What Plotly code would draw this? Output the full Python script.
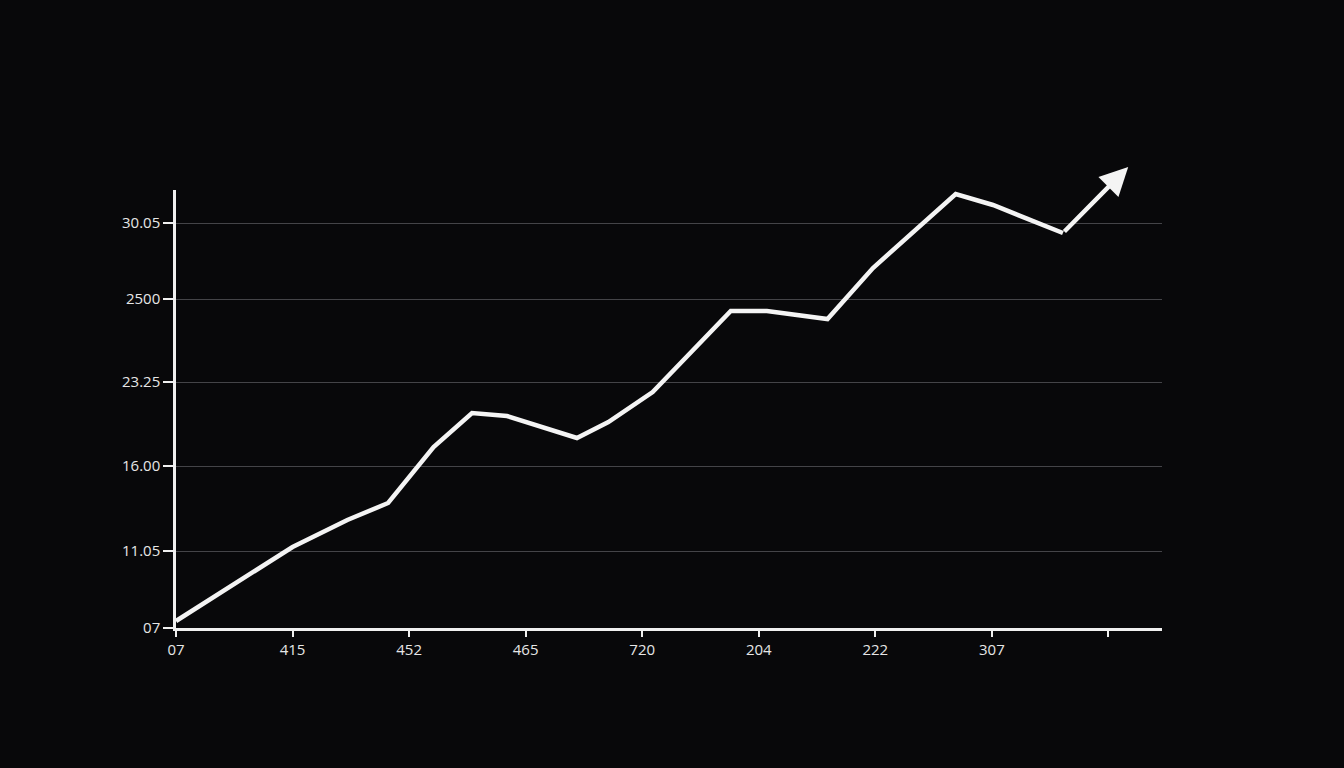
import plotly.graph_objects as go

# X tick categories (positions 0..8) and labels
x_tick_pos = [0, 1, 2, 3, 4, 5, 6, 7, 8]
x_tick_labels = ["07", "415", "452", "465", "720", "204", "222", "307", ""]

# Y tick positions (chart units) and labels
y_tick_pos = [0, 77, 162, 246, 329, 405]
y_tick_labels = ["07", "11.05", "16.00", "23.25", "2500", "30.05"]

# Series values
x_vals = [0.0, 1.0, 1.47, 1.82, 2.21, 2.54, 2.84, 3.44, 3.71, 4.09, 4.76, 5.07, 5.59, 5.98, 6.69, 7.01, 7.61]
y_vals = [7, 81, 108, 125, 181, 215, 212, 190, 206, 236, 317, 317, 309, 360, 434, 423, 395]

# Arrow tip (continuation of the series)
arrow_tip = (8.17, 461)

fig = go.Figure()
fig.add_trace(go.Scatter(
    x=x_vals, y=y_vals, mode="lines",
    line=dict(color="#f4f4f4", width=4.5),
    hoverinfo="skip", showlegend=False,
))

fig.add_annotation(
    x=arrow_tip[0], y=arrow_tip[1], ax=x_vals[-1], ay=y_vals[-1],
    xref="x", yref="y", axref="x", ayref="y",
    showarrow=True, arrowhead=2, arrowsize=1.25, arrowwidth=4.5,
    arrowcolor="#f4f4f4", text="",
)

axis_font = dict(family="Open Sans, DejaVu Sans, sans-serif", size=15, color="#e6e6e6")

fig.update_layout(
    width=1344, height=768,
    paper_bgcolor="#08080a", plot_bgcolor="#08080a",
    margin=dict(l=176, r=182, t=190, b=140),
    xaxis=dict(
        range=[0, 8.46], tickmode="array", tickvals=x_tick_pos, ticktext=x_tick_labels,
        showgrid=False, zeroline=False, showline=True, linecolor="#f0f0f0", linewidth=2.5,
        ticks="outside", ticklen=6, tickwidth=2, tickcolor="#f0f0f0",
        tickfont=axis_font, fixedrange=True,
    ),
    yaxis=dict(
        range=[0, 438], tickmode="array", tickvals=y_tick_pos, ticktext=y_tick_labels,
        showgrid=True, gridcolor="#444448", gridwidth=1.2, zeroline=False,
        showline=True, linecolor="#f0f0f0", linewidth=2.5,
        ticks="outside", ticklen=10, tickwidth=2, tickcolor="#f0f0f0",
        tickfont=axis_font, fixedrange=True,
    ),
)

fig.write_html(
    "out.html",
    config={"displayModeBar": False},
    post_script="document.body.style.margin='0';document.body.style.background='#08080a';",
)
